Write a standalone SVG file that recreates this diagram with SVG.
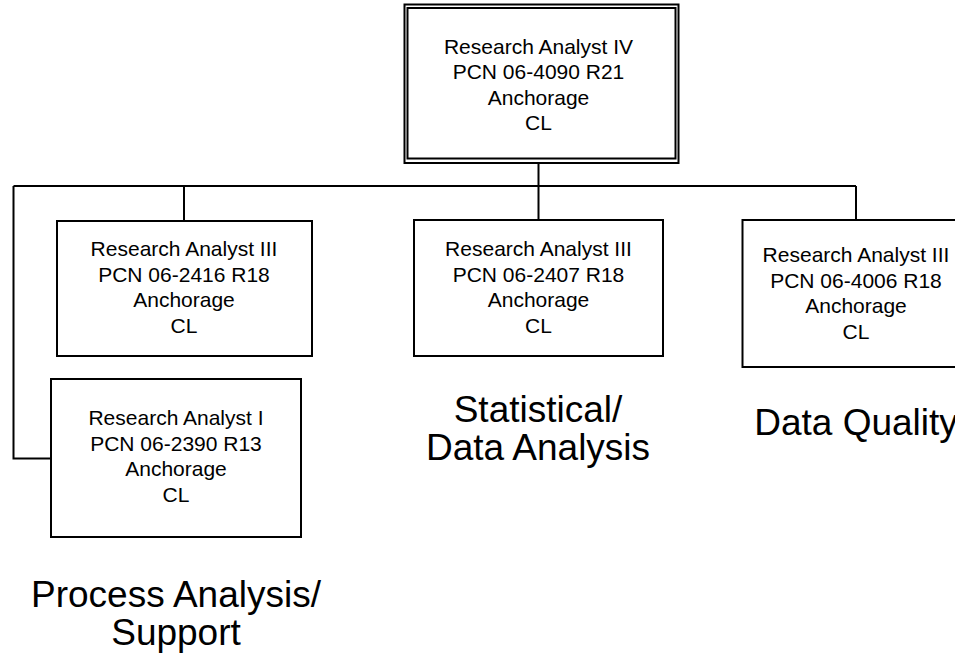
<svg xmlns="http://www.w3.org/2000/svg" width="955" height="662" viewBox="0 0 955 662">
<style>
.box{fill:#fff;stroke:#000;stroke-width:2}
.ln{fill:none;stroke:#000;stroke-width:2}
.t{font-family:"Liberation Sans",Arial,sans-serif;font-size:21px;fill:#000;text-anchor:middle}
.lbl{font-family:"Liberation Sans",Arial,sans-serif;font-size:37px;fill:#000;text-anchor:middle}
</style>
<rect width="955" height="662" fill="#fff"/>
<g id="connectors">
<path class="ln" d="M538.5 163 V220"/>
<path class="ln" d="M13.5 186 H856"/>
<path class="ln" d="M184 186 V221"/>
<path class="ln" d="M856 186 V220"/>
<path class="ln" d="M13.5 186 V458.5 H51"/>
</g>
<g id="n_top">
<rect class="box" x="404.5" y="4.5" width="274" height="158.5"/>
<rect class="box" x="407.5" y="8" width="268" height="150.5"/>
<text class="t" x="538.5" y="53.5">Research Analyst IV</text>
<text class="t" x="538.5" y="79">PCN 06-4090 R21</text>
<text class="t" x="538.5" y="104.5">Anchorage</text>
<text class="t" x="538.5" y="130">CL</text>
</g>
<g id="n_2416">
<rect class="box" x="57" y="221" width="255" height="135"/>
<text class="t" x="184" y="256">Research Analyst III</text>
<text class="t" x="184" y="281.5">PCN 06-2416 R18</text>
<text class="t" x="184" y="307">Anchorage</text>
<text class="t" x="184" y="332.5">CL</text>
</g>
<g id="n_2407">
<rect class="box" x="414" y="220" width="249" height="136"/>
<text class="t" x="538.5" y="256">Research Analyst III</text>
<text class="t" x="538.5" y="281.5">PCN 06-2407 R18</text>
<text class="t" x="538.5" y="307">Anchorage</text>
<text class="t" x="538.5" y="332.5">CL</text>
</g>
<g id="n_4006">
<rect class="box" x="742.5" y="220" width="228" height="147"/>
<text class="t" x="856" y="262">Research Analyst III</text>
<text class="t" x="856" y="287.5">PCN 06-4006 R18</text>
<text class="t" x="856" y="313">Anchorage</text>
<text class="t" x="856" y="338.5">CL</text>
</g>
<g id="n_2390">
<rect class="box" x="51" y="379" width="250" height="158"/>
<text class="t" x="176" y="425">Research Analyst I</text>
<text class="t" x="176" y="450.5">PCN 06-2390 R13</text>
<text class="t" x="176" y="476">Anchorage</text>
<text class="t" x="176" y="501.5">CL</text>
</g>
<g id="labels">
<text class="lbl" x="538" y="421.5">Statistical/</text>
<text class="lbl" x="538" y="460">Data Analysis</text>
<text class="lbl" x="856" y="435">Data Quality</text>
<text class="lbl" x="176" y="607">Process Analysis/</text>
<text class="lbl" x="176" y="645">Support</text>
</g>
</svg>
